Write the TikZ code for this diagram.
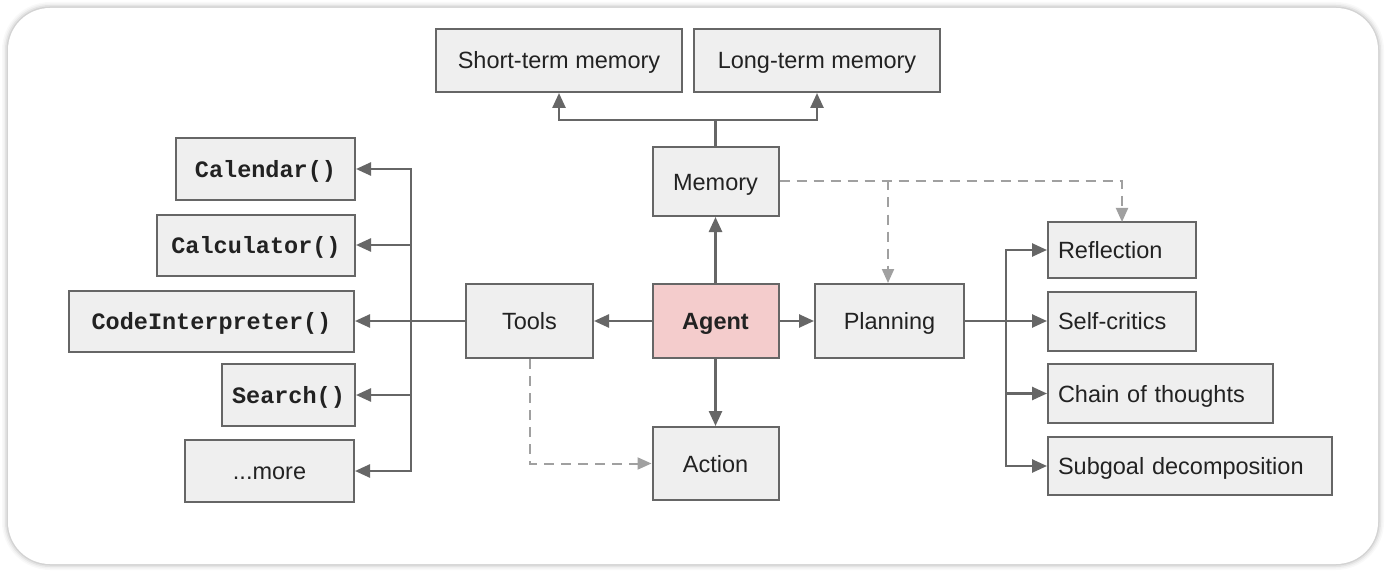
\documentclass[tikz,border=0pt]{standalone}
\usepackage{fontspec}
\setmainfont{Liberation Sans}
\setmonofont{Liberation Mono}
\usetikzlibrary{arrows.meta}
\definecolor{boxfill}{HTML}{EFEFEF}
\definecolor{boxline}{HTML}{666666}
\definecolor{txt}{HTML}{222222}
\definecolor{agentfill}{HTML}{F4CCCC}
\definecolor{dashc}{HTML}{A0A0A0}
\tikzset{
  bx/.style={draw=boxline, fill=boxfill, line width=2pt, inner sep=0pt, text=txt,
    text height=17pt, text depth=0pt,
    font=\fontsize{23.5}{27}\selectfont},
  mono/.style={font=\fontsize{23.5}{27}\selectfont\ttfamily\bfseries},
  lbx/.style={bx, anchor=west, align=left, inner xsep=10pt},
  conn/.style={draw=boxline, line width=2.5pt},
  arr/.style={conn, -{Triangle[length=15pt,width=13pt]}},
  darr/.style={draw=dashc, line width=2pt, dash pattern=on 10pt off 7pt, -{Triangle[length=14pt,width=12pt]}},
}
\begin{document}
\begin{tikzpicture}[x=1pt,y=-1pt]
\useasboundingbox (0,0) rectangle (1386,572);
\fill[white] (0,0) rectangle (1386,572);
\foreach \w/\o in {12/0.025,9/0.03,6/0.05,3/0.07}
  \draw[line width=\w pt, black, opacity=\o, rounded corners=42pt] (8,8) rectangle (1378,564);
\fill[white, rounded corners=42pt] (8,8) rectangle (1378,564);

% top memory
\node[bx, minimum width=246pt, minimum height=63pt] (stm) at (559,60.5) {Short-term memory};
\node[bx, minimum width=246pt, minimum height=63pt] (ltm) at (817,60.5) {Long-term memory};
\node[bx, minimum width=126pt, minimum height=69pt] (mem) at (715.5,181.5) {Memory};

% center row
\node[bx, fill=agentfill, minimum width=126pt, minimum height=74pt, font=\fontsize{23.5}{27}\selectfont\bfseries] (agent) at (715.5,321) {Agent};
\node[bx, minimum width=127pt, minimum height=74pt] (tools) at (529.5,321) {Tools};
\node[bx, minimum width=149pt, minimum height=74pt] (plan) at (889.5,321) {Planning};
\node[bx, minimum width=126pt, minimum height=73pt] (action) at (715.5,463.5) {Action};

% tools
\node[bx, mono, minimum width=179pt, minimum height=62pt] (cal) at (265.5,169) {Calendar()};
\node[bx, mono, minimum width=198pt, minimum height=61pt] (calc) at (256,245) {Calculator()};
\node[bx, mono, minimum width=285pt, minimum height=61pt] (code) at (211.5,321) {CodeInterpreter()};
\node[bx, mono, minimum width=133pt, minimum height=62pt] (search) at (288.5,395) {Search()};
\node[bx, minimum width=169pt, minimum height=62pt] (more) at (269.5,471) {...more};

% planning items
\node[lbx, text width=128pt, minimum height=56pt] (refl) at (1047,250) {Reflection};
\node[lbx, text width=128pt, minimum height=59pt] (self) at (1047,321) {Self-critics};
\node[lbx, text width=205pt, minimum height=59pt] (chain) at (1047,393.5) {Chain of thoughts};
\node[lbx, text width=264pt, minimum height=58pt] (sub) at (1047,466) {Subgoal decomposition};

% memory connectors
\coordinate (mj) at (715.5,120);
\draw[conn] (mem.north) -- (mj);
\draw[arr] (mj) -| (stm.south);
\draw[arr] (mj) -| (ltm.south);

% agent connectors
\draw[arr] (agent.north) -- (mem.south);
\draw[arr] (agent.west) -- (tools.east);
\draw[arr] (agent.east) -- (plan.west);
\draw[arr] (agent.south) -- (action.north);

% tools bus
\coordinate (tbx) at (411,321);
\draw[arr] (tools.west) -- (code.east);
\draw[arr] (tbx) |- (cal.east);
\draw[arr] (tbx) |- (calc.east);
\draw[arr] (tbx) |- (search.east);
\draw[arr] (tbx) |- (more.east);

% planning bus
\coordinate (pbx) at (1006,321);
\draw[arr] (plan.east) -- (self.west);
\draw[arr] (pbx) |- (refl.west);
\draw[arr] (pbx) |- (chain.west);
\draw[arr] (pbx) |- (sub.west);

% dashed
\coordinate (rt) at (1122,222);
\draw[darr] (mem.east) -| (rt);
\coordinate (mp) at (888,180.5);
\draw[darr] (mp) -- (mp |- plan.north);
\draw[darr] (tools.south) |- (action.west);
\end{tikzpicture}
\end{document}
